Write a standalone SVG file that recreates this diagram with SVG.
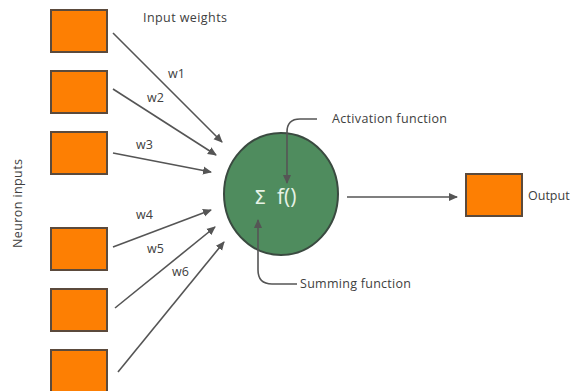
<svg xmlns="http://www.w3.org/2000/svg" width="579" height="391" viewBox="0 0 579 391">
<style>
.box{fill:#fd7f03;stroke:#5b4a3c;stroke-width:2}
.lbl{font-family:"Open Sans","Liberation Sans",sans-serif;font-size:12.5px;fill:#404040}
.con{stroke:#555;stroke-width:1.6;fill:none;marker-end:url(#ah)}
</style>
<defs>
<marker id="ah" markerWidth="10" markerHeight="10" refX="8" refY="5" orient="auto" markerUnits="userSpaceOnUse">
<path d="M0,1 L9,5 L0,9 Z" fill="#555"/>
</marker>
</defs>
<rect width="579" height="391" fill="#fff"/>
<g id="in1"><rect class="box" x="51" y="10" width="56" height="42"/></g>
<g id="in2"><rect class="box" x="51" y="71" width="56" height="42"/></g>
<g id="in3"><rect class="box" x="51" y="132" width="56" height="42"/></g>
<g id="in4"><rect class="box" x="51" y="228" width="56" height="42"/></g>
<g id="in5"><rect class="box" x="51" y="289" width="56" height="42"/></g>
<g id="in6"><rect class="box" x="51" y="350" width="56" height="42"/></g>
<g id="neuron">
<ellipse cx="281" cy="194" rx="57" ry="61" fill="#4f8c5e" stroke="#3a4a40" stroke-width="2"/>
<text x="254" y="204" font-family="'DejaVu Sans',sans-serif" font-size="19" fill="#e6f2e6">Σ</text>
<text x="277" y="204" font-family="'Open Sans','Liberation Sans',sans-serif" font-size="21" fill="#e6f2e6">f()</text>
</g>
<g id="out"><rect class="box" x="466" y="174" width="56" height="42"/></g>
<g id="labels">
<text class="lbl" x="143" y="22" textLength="84">Input weights</text>
<text class="lbl" transform="translate(22,248) rotate(-90)" textLength="89">Neuron inputs</text>
<text class="lbl" x="168" y="78">w1</text>
<text class="lbl" x="147" y="102">w2</text>
<text class="lbl" x="136" y="149">w3</text>
<text class="lbl" x="136" y="219">w4</text>
<text class="lbl" x="147" y="253">w5</text>
<text class="lbl" x="172" y="276">w6</text>
<text class="lbl" x="332" y="123" textLength="115">Activation function</text>
<text class="lbl" x="300" y="288" textLength="111">Summing function</text>
<text class="lbl" x="528" y="200">Output</text>
</g>
<g id="connectors">
<line class="con" x1="113" y1="33" x2="222" y2="142"/>
<line class="con" x1="113" y1="89" x2="216" y2="155"/>
<line class="con" x1="113" y1="153" x2="211" y2="172"/>
<line class="con" x1="113" y1="247" x2="211" y2="210"/>
<line class="con" x1="115" y1="308" x2="215" y2="227"/>
<line class="con" x1="118" y1="372" x2="224" y2="242"/>
<line class="con" x1="347" y1="197" x2="457" y2="197"/>
<path class="con" d="M317,119 L300,119 Q287,119 287,132 L287,183"/>
<path class="con" d="M297,284 L272,284 Q258,284 258,270 L258,220"/>
</g>
</svg>
